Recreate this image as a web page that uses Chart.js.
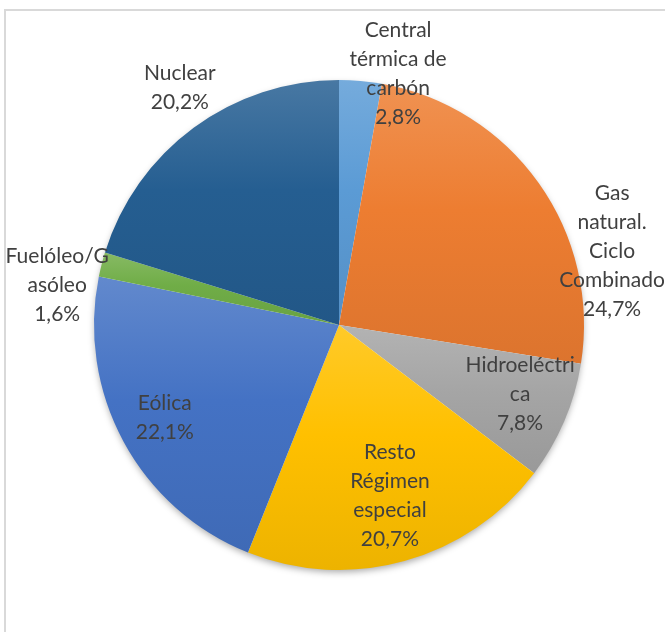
<!DOCTYPE html>
<html>
<head>
<meta charset="utf-8">
<script src="https://cdn.jsdelivr.net/npm/chart.js@4/dist/chart.umd.min.js"></script>
<style>
  body { margin: 0; background: #fff; }
  #wrap { position: relative; width: 665px; height: 632px; overflow: hidden; }
  #frame { position: absolute; left: 4px; top: 9px; width: 720px; height: 700px; border: 2px solid #d9d9d9; box-sizing: border-box; }
  canvas { position: absolute; left: 0; top: 0; }
</style>
</head>
<body>
<div id="wrap">
  <div id="frame"></div>
  <canvas id="chart" width="665" height="632"></canvas>
</div>
<script>
const categories = ['Central térmica de carbón', 'Gas natural. Ciclo Combinado', 'Hidroeléctrica',
  'Resto Régimen especial', 'Eólica', 'Fuelóleo/Gasóleo', 'Nuclear'];
const shares = [2.8, 24.7, 7.8, 20.7, 22.1, 1.6, 20.2];
const colors = ['#5b9bd5', '#ed7d31', '#a5a5a5', '#ffc000', '#4472c4', '#70ad47', '#255e91'];

// wrapped label text, as in the original
const labelLines = [
  ['Central', 'térmica de', 'carbón'],
  ['Gas', 'natural.', 'Ciclo', 'Combinado'],
  ['Hidroeléctri', 'ca'],
  ['Resto', 'Régimen', 'especial'],
  ['Eólica'],
  ['Fuelóleo/G', 'asóleo'],
  ['Nuclear']
];
// [radius factor, angle shift in degrees] for each label
const labelPlace = [[1.053, 8.2], [1.155, 20.2], [0.792, -2.1], [0.728, -1.1], [0.806, 0.3], [1.162, -6.2], [1.165, 2.5]];

function mix(hex, target, amt) {
  const n = parseInt(hex.slice(1), 16);
  const c = [(n >> 16) & 255, (n >> 8) & 255, n & 255].map(v => Math.round(v + (target - v) * amt));
  return `rgb(${c[0]},${c[1]},${c[2]})`;
}

function sliceFill(ctx) {
  const i = ctx.dataIndex;
  const area = ctx.chart.chartArea;
  if (!area) return colors[i];
  const cx = (area.left + area.right) / 2;
  const cy = (area.top + area.bottom) / 2;
  const R = Math.min(area.right - area.left, area.bottom - area.top) / 2;
  const total = shares.reduce((a, b) => a + b, 0);
  let before = 0;
  for (let k = 0; k < i; k++) before += shares[k];
  const a0 = -Math.PI / 2 + before / total * Math.PI * 2;
  const a1 = a0 + shares[i] / total * Math.PI * 2;
  const ys = [cy, cy + Math.sin(a0) * R, cy + Math.sin(a1) * R];
  [-Math.PI / 2, Math.PI / 2, Math.PI * 1.5].forEach(a => { if (a > a0 && a < a1) ys.push(cy + Math.sin(a) * R); });
  const g = ctx.chart.ctx.createLinearGradient(0, Math.min(...ys), 0, Math.max(...ys));
  g.addColorStop(0, mix(colors[i], 255, 0.16));
  g.addColorStop(0.45, colors[i]);
  g.addColorStop(1, mix(colors[i], 0, 0.07));
  return g;
}

const shadowPlugin = {
  id: 'pieShadow',
  beforeDatasetsDraw(chart) {
    const arc = chart.getDatasetMeta(0).data[0];
    if (!arc) return;
    const c = chart.ctx;
    c.save();
    c.shadowColor = 'rgba(0,0,0,0.35)';
    c.shadowBlur = 7;
    c.shadowOffsetY = 3;
    c.fillStyle = '#fff';
    c.beginPath();
    c.arc(arc.x, arc.y, arc.outerRadius - 1, 0, Math.PI * 2);
    c.fill();
    c.restore();
  }
};

const labelPlugin = {
  id: 'sliceLabels',
  afterDatasetsDraw(chart) {
    const c = chart.ctx;
    c.save();
    c.font = '21px Lato';
    c.fillStyle = '#404040';
    c.textAlign = 'center';
    c.textBaseline = 'middle';
    chart.getDatasetMeta(0).data.forEach((arc, i) => {
      const p = arc.getProps(['x', 'y', 'startAngle', 'endAngle', 'outerRadius'], true);
      const mid = (p.startAngle + p.endAngle) / 2 + labelPlace[i][1] * Math.PI / 180;
      const r = p.outerRadius * labelPlace[i][0];
      const lx = p.x + Math.cos(mid) * r;
      const ly = p.y + Math.sin(mid) * r;
      const lines = labelLines[i].concat(shares[i].toFixed(1).replace('.', ',') + '%');
      const lh = 29;
      lines.forEach((t, k) => {
        c.fillText(t, lx, ly + (k - (lines.length - 1) / 2) * lh);
      });
    });
    c.restore();
  }
};

new Chart(document.getElementById('chart'), {
  type: 'pie',
  data: {
    labels: categories,
    datasets: [{
      data: shares,
      backgroundColor: sliceFill,
      borderWidth: 0
    }]
  },
  options: {
    responsive: false,
    animation: false,
    layout: { padding: { left: 94, top: 80, right: 81, bottom: 62 } },
    plugins: {
      legend: { display: false },
      tooltip: { enabled: false }
    }
  },
  plugins: [shadowPlugin, labelPlugin]
});
</script>
</body>
</html>
